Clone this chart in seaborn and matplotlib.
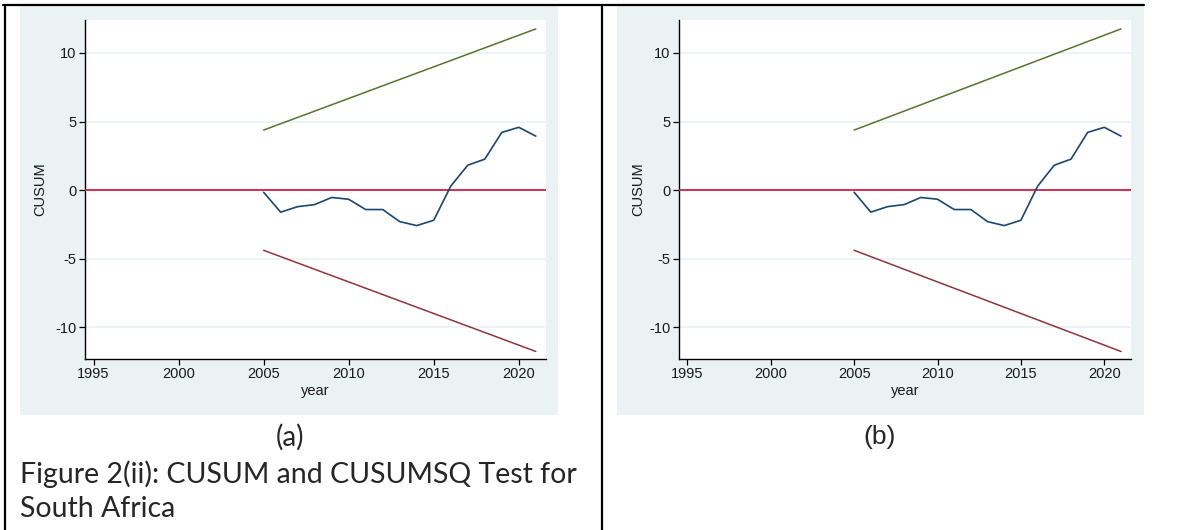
import matplotlib
matplotlib.use("Agg")
import matplotlib.pyplot as plt
from matplotlib.patches import Rectangle
from matplotlib.lines import Line2D
import seaborn as sns
import pandas as pd

# ---------------- data ----------------
years = [2005, 2006, 2007, 2008, 2009, 2010, 2011, 2012, 2013,
         2014, 2015, 2016, 2017, 2018, 2019, 2020, 2021]
cusum = [-0.15, -1.6, -1.2, -1.05, -0.53, -0.66, -1.41, -1.41, -2.29,
         -2.58, -2.19, 0.29, 1.82, 2.26, 4.21, 4.58, 3.94]
bound_years = [2005, 2021]
upper_bound = [4.38, 11.75]
lower_bound = [-4.38, -11.75]
x_ticks = [1995, 2000, 2005, 2010, 2015, 2020]
y_ticks = [-10, -5, 0, 5, 10]
panel_labels = ["(a)", "(b)"]
caption_lines = ["Figure 2(ii): CUSUM and CUSUMSQ Test for", "South Africa"]

# ---------------- style ----------------
sns.set_style("white")
plt.rcParams["font.family"] = ["Liberation Sans", "DejaVu Sans"]

W, H = 1203, 530
fig = plt.figure(figsize=(W / 100, H / 100), dpi=100)

BG = "#eaf2f3"
NAVY = "#1a476f"
MAROON = "#90353b"
GREEN = "#55752f"
RED = "#d21f48"
TXT = "#1a1a1a"

def fx(x):
    return x / W

def fy(y):
    return 1 - y / H

# grey graph regions (pixel coords, top-left origin)
regions = [(20, 5, 558, 415), (617, 5, 1144, 415)]
for x0, y0, x1, y1 in regions:
    fig.patches.append(Rectangle((fx(x0), fy(y1)), fx(x1) - fx(x0), fy(y0) - fy(y1),
                                 transform=fig.transFigure, facecolor=BG,
                                 edgecolor="none", zorder=-5))

# plot areas (pixel coords)
plot_boxes = [(85, 20, 546, 359), (679, 20, 1131, 359)]
ylabel_x = [(40 - 85) / 461, (638 - 679) / 452]
xlabel_y = [(359 - 391) / 339, (359 - 391) / 339]

df_c = pd.DataFrame({"year": years, "cusum": cusum})
df_b = pd.DataFrame({"year": bound_years, "upper": upper_bound, "lower": lower_bound})

for i, (x0, y0, x1, y1) in enumerate(plot_boxes):
    ax = fig.add_axes([fx(x0), fy(y1), fx(x1) - fx(x0), fy(y0) - fy(y1)])
    ax.set_zorder(5)
    ax.set_facecolor("white")
    ax.set_xlim(1994.5, 2021.6)
    ax.set_ylim(-12.3, 12.4)
    for yv in y_ticks:
        ax.axhline(yv, color=BG, lw=1.2, zorder=1)
    ax.axhline(0, color=RED, lw=1.3, zorder=3)
    sns.lineplot(data=df_b, x="year", y="upper", ax=ax, color=GREEN, lw=1.1, zorder=4)
    sns.lineplot(data=df_b, x="year", y="lower", ax=ax, color=MAROON, lw=1.1, zorder=4)
    sns.lineplot(data=df_c, x="year", y="cusum", ax=ax, color=NAVY, lw=1.2, zorder=5)
    ax.set_xticks(x_ticks)
    ax.set_yticks(y_ticks)
    ax.set_xticklabels([str(t) for t in x_ticks])
    ax.set_yticklabels([str(t) for t in y_ticks])
    ax.tick_params(axis="both", direction="out", length=4, width=0.9, color="black",
                   labelsize=10.5, labelcolor=TXT, pad=2, left=True, bottom=True)
    for s in ["top", "right"]:
        ax.spines[s].set_visible(False)
    for s in ["left", "bottom"]:
        ax.spines[s].set_color("black")
        ax.spines[s].set_linewidth(1.0)
    ax.set_xlabel("year", fontsize=10.5, color=TXT, va="center")
    ax.set_ylabel("CUSUM", fontsize=10.5, color=TXT, va="center")
    ax.xaxis.set_label_coords(0.5, xlabel_y[i])
    ax.yaxis.set_label_coords(ylabel_x[i], 0.5)

# panel labels and caption
fig.text(fx(290), fy(437), panel_labels[0], fontsize=20, family=["Lato", "DejaVu Sans"],
         ha="center", va="center")
fig.text(fx(880), fy(437), panel_labels[1], fontsize=19, family=["Liberation Sans", "DejaVu Sans"],
         ha="center", va="center")
fig.text(fx(20), fy(474), caption_lines[0], fontsize=20.5, family=["Lato", "DejaVu Sans"],
         ha="left", va="center")
fig.text(fx(20), fy(509), caption_lines[1], fontsize=20.5, family=["Lato", "DejaVu Sans"],
         ha="left", va="center")

# table borders
fig.add_artist(Line2D([fx(3), fx(1144)], [fy(5), fy(5)], color="black", lw=1.6,
                      transform=fig.transFigure))
fig.add_artist(Line2D([fx(4.5), fx(4.5)], [fy(5), fy(530)], color="black", lw=1.6,
                      transform=fig.transFigure))
fig.add_artist(Line2D([fx(601.5), fx(601.5)], [fy(5), fy(530)], color="black", lw=1.6,
                      transform=fig.transFigure))

fig.savefig("out.png", dpi=100, facecolor="white")
